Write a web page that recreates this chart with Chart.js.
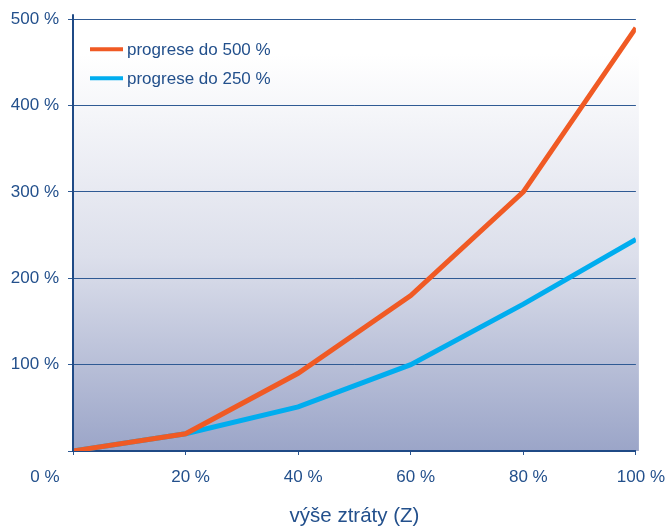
<!DOCTYPE html>
<html>
<head>
<meta charset="utf-8">
<script src="https://cdn.jsdelivr.net/npm/chart.js@4"></script>
<style>
html,body{margin:0;padding:0;background:#fff;}
#wrap{width:672px;height:526px;}
</style>
</head>
<body>
<div id="wrap"><canvas id="c" width="672" height="526"></canvas></div>
<script>
const xValues = [0, 20, 40, 60, 80, 100];
const seriesNames = ['progrese do 500 %', 'progrese do 250 %'];
const progrese500 = [0, 20, 90, 180, 300, 490];
const progrese250 = [0, 20, 51, 100, 170, 245];
const xTitle = 'výše ztráty (Z)';

const textColor = '#23508c';
const fontFamily = '"Liberation Sans", Arial, sans-serif';

const bgPlugin = {
  id: 'bg',
  beforeDraw(chart) {
    const {ctx, chartArea: a} = chart;
    const g = ctx.createLinearGradient(0, a.top, 0, a.bottom);
    g.addColorStop(0, '#ffffff');
    g.addColorStop(0.08, '#ffffff');
    g.addColorStop(0.55, '#dcdfeb');
    g.addColorStop(1, '#9ba5c8');
    ctx.save();
    ctx.fillStyle = g;
    ctx.fillRect(a.left, a.top - 4, a.right - a.left + 3, a.bottom - a.top + 4);
    ctx.restore();
  },
  afterDraw(chart) {
    const {ctx, chartArea: a} = chart;
    const xs = chart.scales.x;
    ctx.save();
    ctx.font = '17px ' + fontFamily;
    ctx.fillStyle = textColor;
    ctx.textAlign = 'center';
    ctx.textBaseline = 'middle';
    ctx.fillText('0 %', xs.getPixelForValue(0) - 28, 477);
    ctx.strokeStyle = '#1f4a86';
    ctx.lineWidth = 2;
    ctx.beginPath();
    ctx.moveTo(a.left, a.top - 5);
    ctx.lineTo(a.left, a.bottom);
    ctx.stroke();
    ctx.font = '17px ' + fontFamily;
    chart.data.datasets.forEach((ds, i) => {
      const y = a.top + 30 + i * 29;
      ctx.strokeStyle = ds.borderColor;
      ctx.lineWidth = 4;
      ctx.beginPath();
      ctx.moveTo(a.left + 17, y);
      ctx.lineTo(a.left + 50, y);
      ctx.stroke();
      ctx.fillStyle = textColor;
      ctx.textAlign = 'left';
      ctx.fillText(ds.label, a.left + 54, y + 1);
    });
    ctx.restore();
  }
};

new Chart(document.getElementById('c'), {
  type: 'line',
  data: {
    datasets: [
      {
        label: seriesNames[0],
        data: xValues.map((x, i) => ({x: x, y: progrese500[i]})),
        borderColor: '#f05a24',
        borderWidth: 5,
        pointRadius: 0,
        tension: 0,
        fill: false
      },
      {
        label: seriesNames[1],
        data: xValues.map((x, i) => ({x: x, y: progrese250[i]})),
        borderColor: '#00adef',
        borderWidth: 5,
        pointRadius: 0,
        tension: 0,
        fill: false
      }
    ]
  },
  options: {
    responsive: false,
    animation: false,
    devicePixelRatio: 1,
    layout: {padding: {left: 0, right: 36, top: 18, bottom: 0}},
    plugins: {legend: {display: false}, tooltip: {enabled: false}},
    scales: {
      x: {
        type: 'linear',
        min: 0, max: 100,
        ticks: {
          stepSize: 20,
          color: textColor,
          font: {family: fontFamily, size: 17},
          padding: 12,
          labelOffset: 5,
          callback: v => v === 0 ? '' : v + ' %'
        },
        grid: {drawOnChartArea: false, drawTicks: true, tickLength: 4, color: '#2a5590', lineWidth: 1},
        border: {display: true, color: '#1f4a86', width: 2},
        title: {
          display: true,
          text: xTitle,
          color: textColor,
          font: {family: fontFamily, size: 20.5},
          padding: {top: 0, bottom: -3}
        },
        afterFit(s) { s.height = 75; }
      },
      y: {
        min: 0, max: 500,
        ticks: {
          stepSize: 100,
          color: textColor,
          font: {family: fontFamily, size: 17},
          padding: 9,
          callback: v => v === 0 ? '' : v + ' %'
        },
        grid: {color: '#2f5a94', lineWidth: 1, drawTicks: true, tickLength: 5},
        border: {display: true, color: '#1f4a86', width: 2},
        afterFit(s) { s.width = 73; }
      }
    }
  },
  plugins: [bgPlugin]
});
</script>
</body>
</html>
